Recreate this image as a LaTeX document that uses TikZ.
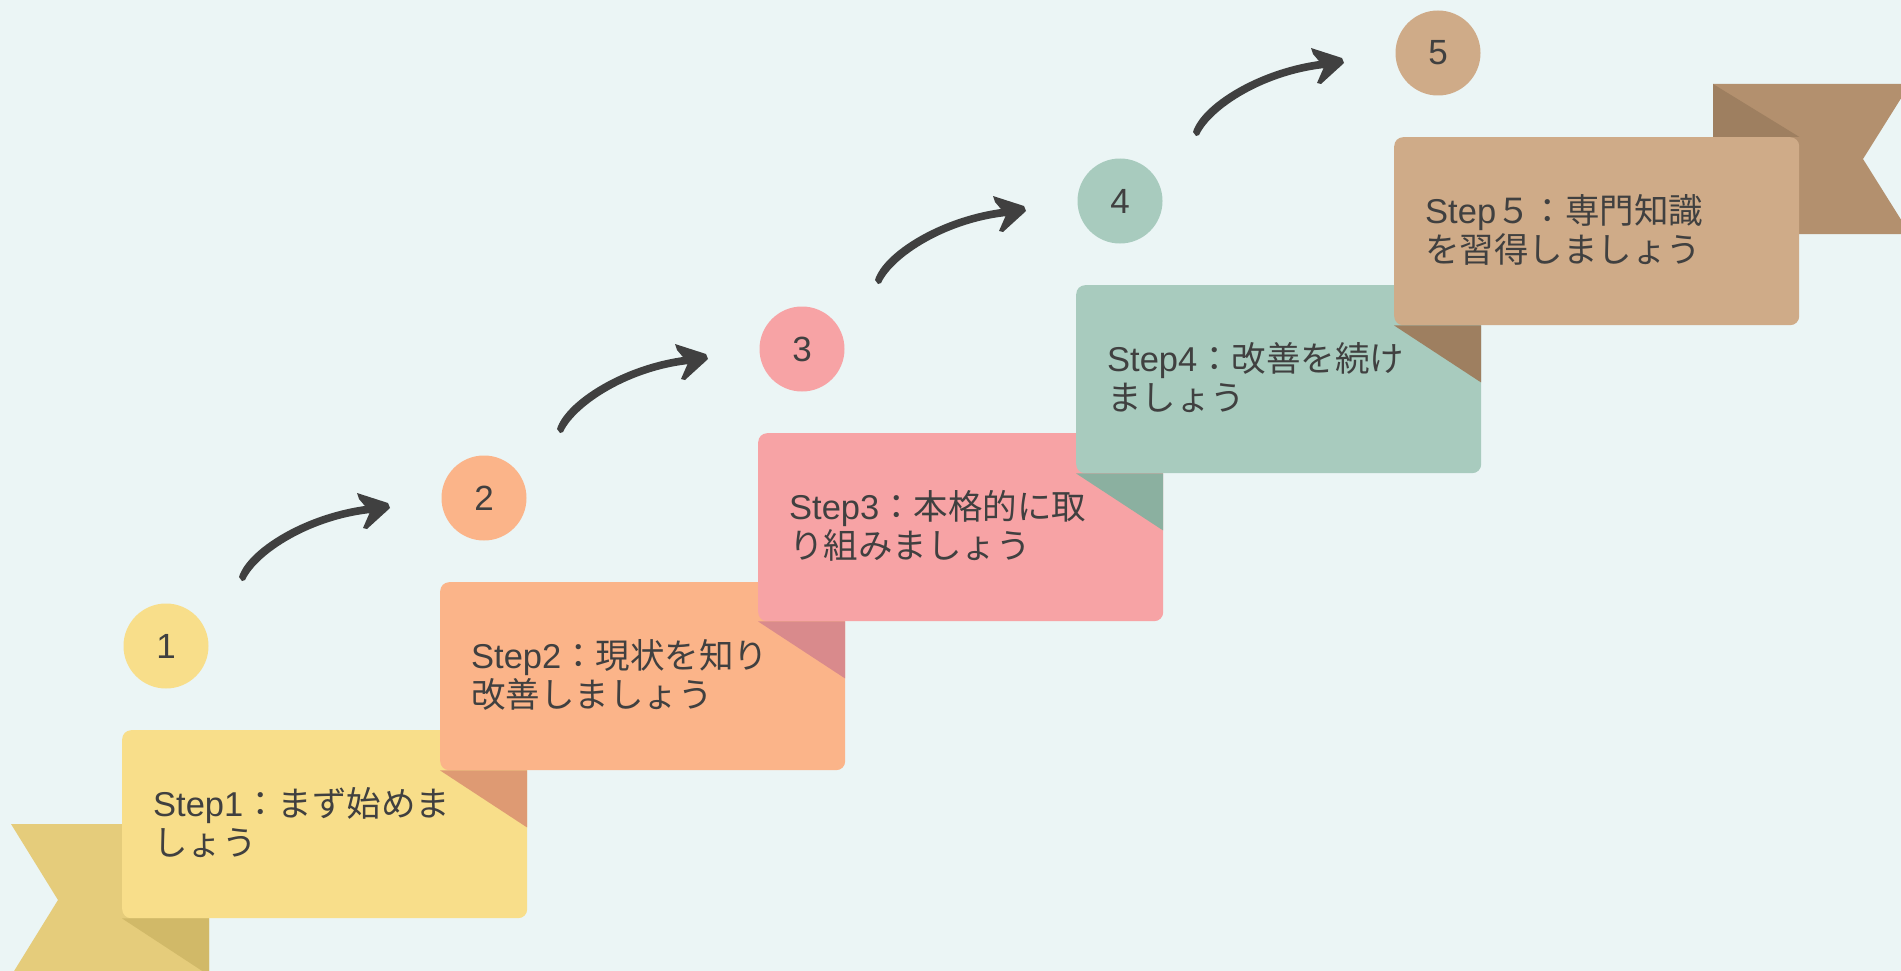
\documentclass[tikz,border=0pt]{standalone}
\usepackage{fontspec}
\setmainfont{Noto Sans CJK JP}
\newfontfamily\latinf{Liberation Sans}
\usetikzlibrary{calc}
\definecolor{bgc}{HTML}{EBF5F5}
\definecolor{ink}{HTML}{404040}
\definecolor{yel}{HTML}{F8DE8A}
\definecolor{yeltail}{HTML}{E5CC7B}
\definecolor{yelfold}{HTML}{D1B968}
\definecolor{ora}{HTML}{FBB489}
\definecolor{orafold}{HTML}{DE9A73}
\definecolor{pnk}{HTML}{F7A3A5}
\definecolor{pnkfold}{HTML}{D98A8C}
\definecolor{grn}{HTML}{A8CBBE}
\definecolor{grnfold}{HTML}{8BB0A0}
\definecolor{brn}{HTML}{CFAB88}
\definecolor{brntail}{HTML}{B3906E}
\definecolor{brnfold}{HTML}{9E7F60}
\tikzset{
  card/.style={rectangle, rounded corners=9pt, draw=none, minimum width=405pt, minimum height=188pt, inner sep=0pt, anchor=north west},
  numdisc/.style={circle, minimum size=85pt, inner sep=0pt, draw=none, text=ink, font=\latinf\fontsize{35}{42}\selectfont},
  cardtext/.style={text=ink, font=\fontsize{34.5}{41}\selectfont, anchor=base west, inner sep=0pt},
}
\begin{document}
\begin{tikzpicture}[x=1pt,y=-1pt]
\useasboundingbox (0,0) rectangle (1901,971);
\clip (0,0) rectangle (1901,971);
\fill[bgc] (0,0) rectangle (1901,971);

% ribbon tails
\fill[yeltail] (11,824) -- (209,824) -- (209,976) -- (11,976) -- (58,900) -- cycle;
\fill[brntail] (1713,84) -- (1910,84) -- (1863,159) -- (1910,234) -- (1713,234) -- cycle;

% step 1
\node[card, fill=yel] (b1) at (122,730) {};
\fill[yelfold] (b1.south west) -- ($(b1.south west)+(87,0)$) -- ($(b1.south west)+(87,57)$) -- cycle;
\node[cardtext] (t1a) at ($(b1.north west)+(31,86)$) {{\latinf Step1}：まず始めま};
\node[cardtext] (t1b) at ($(b1.north west)+(31,125)$) {しょう};
\node[numdisc, fill=yel] (c1) at ($(b1.north west)+(44,-84)$) {1};

% step 2
\node[card, fill=ora] (b2) at (440,582) {};
\fill[orafold] (b2.south west) -- ($(b2.south west)+(87,0)$) -- ($(b2.south west)+(87,57)$) -- cycle;
\node[cardtext] (t2a) at ($(b2.north west)+(31,86)$) {{\latinf Step2}：現状を知り};
\node[cardtext] (t2b) at ($(b2.north west)+(31,125)$) {改善しましょう};
\node[numdisc, fill=ora] (c2) at ($(b2.north west)+(44,-84)$) {2};

% step 3
\node[card, fill=pnk] (b3) at (758,433) {};
\fill[pnkfold] (b3.south west) -- ($(b3.south west)+(87,0)$) -- ($(b3.south west)+(87,57)$) -- cycle;
\node[cardtext] (t3a) at ($(b3.north west)+(31,86)$) {{\latinf Step3}：本格的に取};
\node[cardtext] (t3b) at ($(b3.north west)+(31,125)$) {り組みましょう};
\node[numdisc, fill=pnk] (c3) at ($(b3.north west)+(44,-84)$) {3};

% step 4
\node[card, fill=grn] (b4) at (1076,285) {};
\fill[grnfold] (b4.south west) -- ($(b4.south west)+(87,0)$) -- ($(b4.south west)+(87,57)$) -- cycle;
\node[cardtext] (t4a) at ($(b4.north west)+(31,86)$) {{\latinf Step4}：改善を続け};
\node[cardtext] (t4b) at ($(b4.north west)+(31,125)$) {ましょう};
\node[numdisc, fill=grn] (c4) at ($(b4.north west)+(44,-84)$) {4};

% step 5
\node[card, fill=brn] (b5) at (1394,137) {};
\fill[brnfold] (b5.south west) -- ($(b5.south west)+(87,0)$) -- ($(b5.south west)+(87,57)$) -- cycle;
\fill[brnfold] (1713,84) -- (b5.north east) -- (1713,137) -- cycle;
\node[cardtext] (t5a) at ($(b5.north west)+(31,86)$) {{\latinf Step}５：専門知識};
\node[cardtext] (t5b) at ($(b5.north west)+(31,125)$) {を習得しましょう};
\node[numdisc, fill=brn] (c5) at ($(b5.north west)+(44,-84)$) {5};

% arrows
\foreach \a/\b in {c1/c2, c2/c3, c3/c4, c4/c5}{
  \coordinate (s-\a) at ($(\a)+(76,-68)$);
  \coordinate (e-\a) at ($(\b)+(-97,9)$);
  \fill[ink] ($(s-\a)+(-3,-1)$) .. controls ($(s-\a)+(6,-31)$) and ($(e-\a)+(-72,0)$) .. ($(e-\a)+(-1,-3)$)
     -- ($(e-\a)+(-1,5)$) .. controls ($(e-\a)+(-69,7)$) and ($(s-\a)+(16,-26)$) .. ($(s-\a)+(3,2)$)
     -- ($(s-\a)+(0,3)$) -- cycle;
  \fill[ink] ($(e-\a)+(-30,-14)$) -- ($(e-\a)+(1,-4)$) -- ($(e-\a)+(3,1)$) -- ($(e-\a)+(-20,22)$)
     -- ($(e-\a)+(-24,21)$) -- ($(e-\a)+(-17,5)$) -- ($(e-\a)+(-28,-8)$) -- cycle;
}
\end{tikzpicture}
\end{document}
